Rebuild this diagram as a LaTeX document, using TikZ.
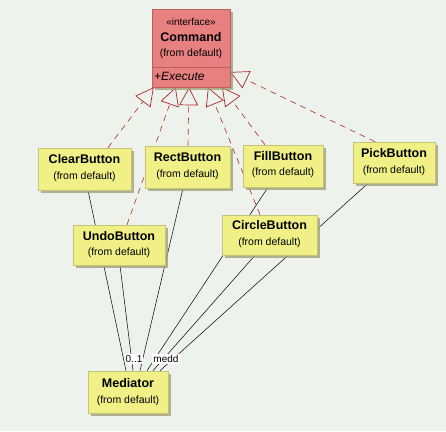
\documentclass[tikz,border=0pt]{standalone}
\usepackage{fontspec}
\setmainfont{Liberation Sans}
\usetikzlibrary{arrows.meta,shadows}
\definecolor{bgc}{RGB}{237,242,237}
\definecolor{yel}{RGB}{240,240,135}
\definecolor{yeld}{RGB}{196,196,120}
\definecolor{shd}{RGB}{160,160,120}
\definecolor{sal}{RGB}{233,128,128}
\definecolor{sald}{RGB}{190,95,95}
\definecolor{genc}{RGB}{172,40,40}
\pgfdeclarelayer{bg}
\pgfsetlayers{bg,main}
\tikzset{
  cls/.style={draw=yeld,line width=0.6pt,fill=yel,inner sep=0pt,
    drop shadow={shadow xshift=2.5pt,shadow yshift=-2.5pt,fill=shd,opacity=0.8}},
  ifc/.style={draw=sald,line width=0.6pt,fill=sal,inner sep=0pt,
    drop shadow={shadow xshift=2.5pt,shadow yshift=-2.5pt,fill=shd,opacity=0.8}},
  ttl/.style={font=\fontsize{12.5}{14}\selectfont\bfseries,inner sep=0pt},
  sub/.style={font=\fontsize{10.5}{12}\selectfont,inner sep=0pt},
  gen/.style={draw=genc,line width=0.6pt,dash pattern=on 6pt off 5pt,
    -{Triangle[open,length=18pt,width=19pt,line width=0.7pt,fill=bgc]}},
  asc/.style={draw=black,line width=0.5pt},
  mult/.style={font=\fontsize{10}{11}\selectfont,fill=white,inner sep=1pt}
}
\begin{document}
\begin{tikzpicture}[x=1pt,y=-1pt]
\useasboundingbox (0,0) rectangle (446,431);
% Command interface
\node[ifc,minimum width=78pt,minimum height=78pt] (cmd) at (191,48) {};
\node[sub,font=\fontsize{10}{12}\selectfont] (cst) at (191,22) {«interface»};
\node[ttl] (cnm) at (191,37) {Command};
\node[sub] (cfd) at (191,54) {(from default)};
\coordinate (sepl) at ([yshift=-19pt]cmd.west);
\coordinate (sepr) at ([yshift=-19pt]cmd.east);
\draw[sald,line width=0.6pt] (sepl) -- (sepr);
\node[font=\fontsize{12}{14}\selectfont\itshape,anchor=west,inner sep=0pt] (cop) at (154,76) {+Execute};
% buttons
\node[cls,minimum width=93pt,minimum height=42pt] (clear) at (84.5,169) {};
\node[ttl] at (84.5,159) {ClearButton};
\node[sub] at (84.5,177) {(from default)};
\node[cls,minimum width=85pt,minimum height=42pt] (rect) at (187.5,167) {};
\node[ttl] at (187.5,157) {RectButton};
\node[sub] at (187.5,175) {(from default)};
\node[cls,minimum width=80pt,minimum height=42pt] (fill) at (283,166) {};
\node[ttl] at (283,156) {FillButton};
\node[sub] at (283,173) {(from default)};
\node[cls,minimum width=82pt,minimum height=41pt] (pick) at (394,162.5) {};
\node[ttl] at (394,153) {PickButton};
\node[sub] at (394,171) {(from default)};
\node[cls,minimum width=92pt,minimum height=40pt] (undo) at (119,245) {};
\node[ttl] at (119,236) {UndoButton};
\node[sub] at (119,253) {(from default)};
\node[cls,minimum width=95pt,minimum height=40pt] (circle) at (269.5,235) {};
\node[ttl] at (269.5,225) {CircleButton};
\node[sub] at (269.5,243) {(from default)};
\node[cls,minimum width=80pt,minimum height=42pt] (med) at (128,392) {};
\node[ttl] at (128,383) {Mediator};
\node[sub] at (128,401) {(from default)};
\begin{pgfonlayer}{bg}
\fill[bgc] (0,0) rectangle (446,431);
% associations
\draw[asc] ([xshift=3.5pt]clear.south) -- ([xshift=-2pt]med.north);
\draw[asc] ([xshift=1pt]undo.south) -- ([xshift=5pt]med.north);
\draw[asc] ([xshift=-4.5pt]rect.south) -- ([xshift=12pt]med.north);
\draw[asc] ([xshift=-15pt]fill.south) -- ([xshift=19pt]med.north);
\draw[asc] ([xshift=-14.5pt]circle.south) -- ([xshift=25pt]med.north);
\draw[asc] ([xshift=-26pt]pick.south) -- ([xshift=32pt]med.north);
% generalizations
\draw[gen] ([xshift=23.5pt]clear.north) -- ([xshift=2pt]cmd.south west);
\draw[gen] ([xshift=8pt]undo.north) -- ([xshift=24pt]cmd.south west);
\draw[gen] ([xshift=0.5pt]rect.north) -- ([xshift=-2pt]cmd.south);
\draw[gen] ([xshift=-9.5pt]circle.north) -- ([xshift=17pt]cmd.south);
\draw[gen] ([xshift=-18pt]fill.north) -- ([xshift=31pt]cmd.south);
\draw[gen] ([xshift=-19pt]pick.north) -- ([yshift=-24pt]cmd.east);
\end{pgfonlayer}
% multiplicity / role labels
\node[mult] (m1) at (134,359) {0..1};
\node[mult] (m2) at (166,359) {medd};
\end{tikzpicture}
\end{document}
